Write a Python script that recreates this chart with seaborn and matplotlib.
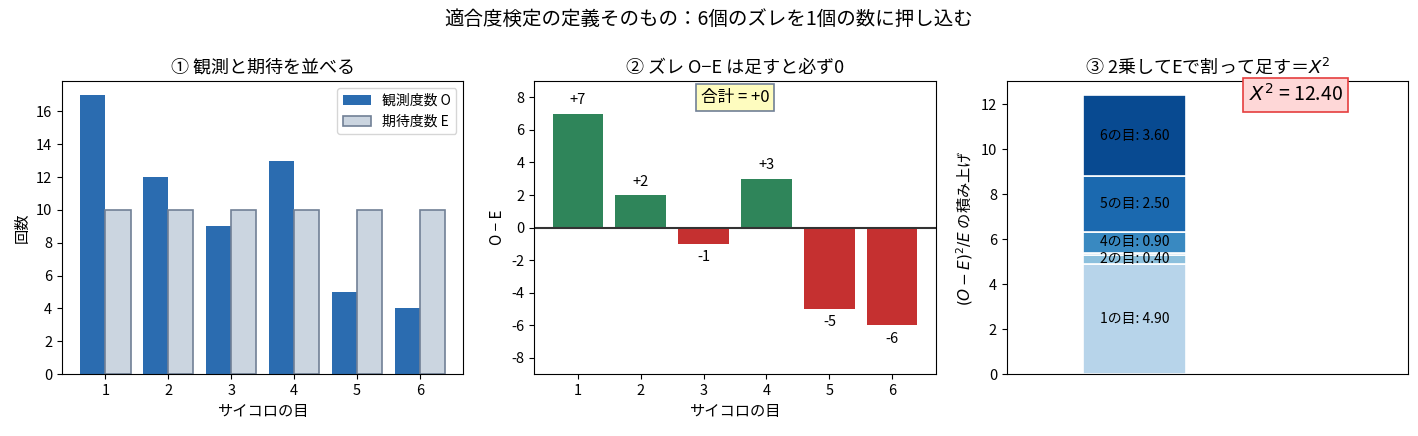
import numpy as np
import pandas as pd
import matplotlib
matplotlib.use("Agg")
import matplotlib.pyplot as plt
import seaborn as sns

faces = ["1", "2", "3", "4", "5", "6"]
observed = [17, 12, 9, 13, 5, 4]
expected = [10, 10, 10, 10, 10, 10]

sns.set_style("ticks")
plt.rcParams['font.family'] = ['Noto Sans CJK JP', 'DejaVu Sans']
plt.rcParams['axes.unicode_minus'] = False
plt.rcParams['axes.edgecolor'] = 'black'
plt.rcParams['xtick.color'] = 'black'
plt.rcParams['ytick.color'] = 'black'
plt.rcParams['axes.labelcolor'] = 'black'
plt.rcParams['text.color'] = 'black'

BLUE = "#2b6cb0"
GRAY = "#cbd5e0"
GRAY_EDGE = "#718096"
GREEN = "#2f855a"
RED = "#c53030"

obs = np.array(observed, dtype=float)
exp = np.array(expected, dtype=float)
diff = obs - exp
contrib = diff ** 2 / exp
chi2 = contrib.sum()

fig, axes = plt.subplots(1, 3, figsize=(14.18, 4.36), dpi=100)
fig.subplots_adjust(left=0.0437, right=0.993, top=0.814, bottom=0.142, wspace=0.177)

# Panel 1
ax = axes[0]
df1 = pd.DataFrame({
    "face": faces * 2,
    "count": observed + expected,
    "kind": ["観測度数 O"] * 6 + ["期待度数 E"] * 6,
})
sns.barplot(data=df1, x="face", y="count", hue="kind", palette=[BLUE, GRAY],
            saturation=1, width=0.8, ax=ax, legend=False)
conts = ax.containers
conts[0].set_label("観測度数 O")
conts[1].set_label("期待度数 E")
for p in conts[0].patches:
    p.set_linewidth(0)
for p in conts[1].patches:
    p.set_edgecolor(GRAY_EDGE)
    p.set_linewidth(1.2)
ax.legend(handles=[conts[0], conts[1]], loc="upper right", fontsize=10)
ax.set_xlim(-0.69, 5.69)
ax.set_ylim(0, 17.85)
ax.set_xlabel("サイコロの目", fontsize=11)
ax.set_ylabel("回数", fontsize=11)
ax.set_title("① 観測と期待を並べる", fontsize=13)

# Panel 2
ax = axes[1]
colors2 = [GREEN if d >= 0 else RED for d in diff]
df2 = pd.DataFrame({"face": faces, "diff": diff})
sns.barplot(data=df2, x="face", y="diff", hue="face", palette=colors2,
            saturation=1, width=0.8, ax=ax, legend=False)
for p in ax.patches:
    p.set_linewidth(0)
ax.axhline(0, color="#333333", lw=1.5)
for i, d in enumerate(diff):
    if d >= 0:
        ax.text(i, d + 0.4, f"+{int(d)}", ha="center", va="bottom", fontsize=10.5)
    else:
        ax.text(i, d - 0.4, f"{int(d)}", ha="center", va="top", fontsize=10.5)
ax.set_ylim(-9, 9)
ax.set_xlim(-0.69, 5.69)
ax.set_yticks([-8, -6, -4, -2, 0, 2, 4, 6, 8])
ax.set_xlabel("サイコロの目", fontsize=11)
ax.set_ylabel("O − E", fontsize=11)
ax.set_title("② ズレ O−E は足すと必ず0", fontsize=13)
ax.text(0.5, 0.944, f"合計 = +{int(diff.sum())}", transform=ax.transAxes,
        ha="center", va="center", fontsize=12,
        bbox=dict(boxstyle="square,pad=0.3", facecolor="#fefcbf", edgecolor="#718096", lw=1.2))

# Panel 3
ax = axes[2]
cols3 = plt.cm.Blues(np.linspace(0.3, 0.9, 6))
bottom = 0.0
for i, v in enumerate(contrib):
    ax.bar(0, v, bottom=bottom, width=0.5, color=cols3[i], edgecolor="white", linewidth=1.2)
    if v >= 0.3:
        ax.text(0, bottom + v / 2, f"{faces[i]}の目: {v:.2f}", ha="center", va="center", fontsize=10)
    bottom += v
ax.set_xlim(-0.62, 1.33)
ax.set_ylim(0, chi2 * 1.05)
ax.set_xticks([])
ax.set_ylabel("$(O-E)^2/E$ の積み上げ", fontsize=11)
ax.set_title("③ 2乗してEで割って足す＝$X^2$", fontsize=13)
ax.text(0.72, 0.952, f"$X^2$ = {chi2:.2f}", transform=ax.transAxes,
        ha="center", va="center", fontsize=14,
        bbox=dict(boxstyle="square,pad=0.3", facecolor="#fed7d7", edgecolor="#e53e3e", lw=1.2))

for a in axes:
    for s in a.spines.values():
        s.set_visible(True)
        s.set_color("black")
    a.tick_params(direction="out", length=3.5, labelsize=10.5)

fig.suptitle("適合度検定の定義そのもの：6個のズレを1個の数に押し込む", fontsize=14, y=0.98)
fig.savefig("out.png", dpi=100)
